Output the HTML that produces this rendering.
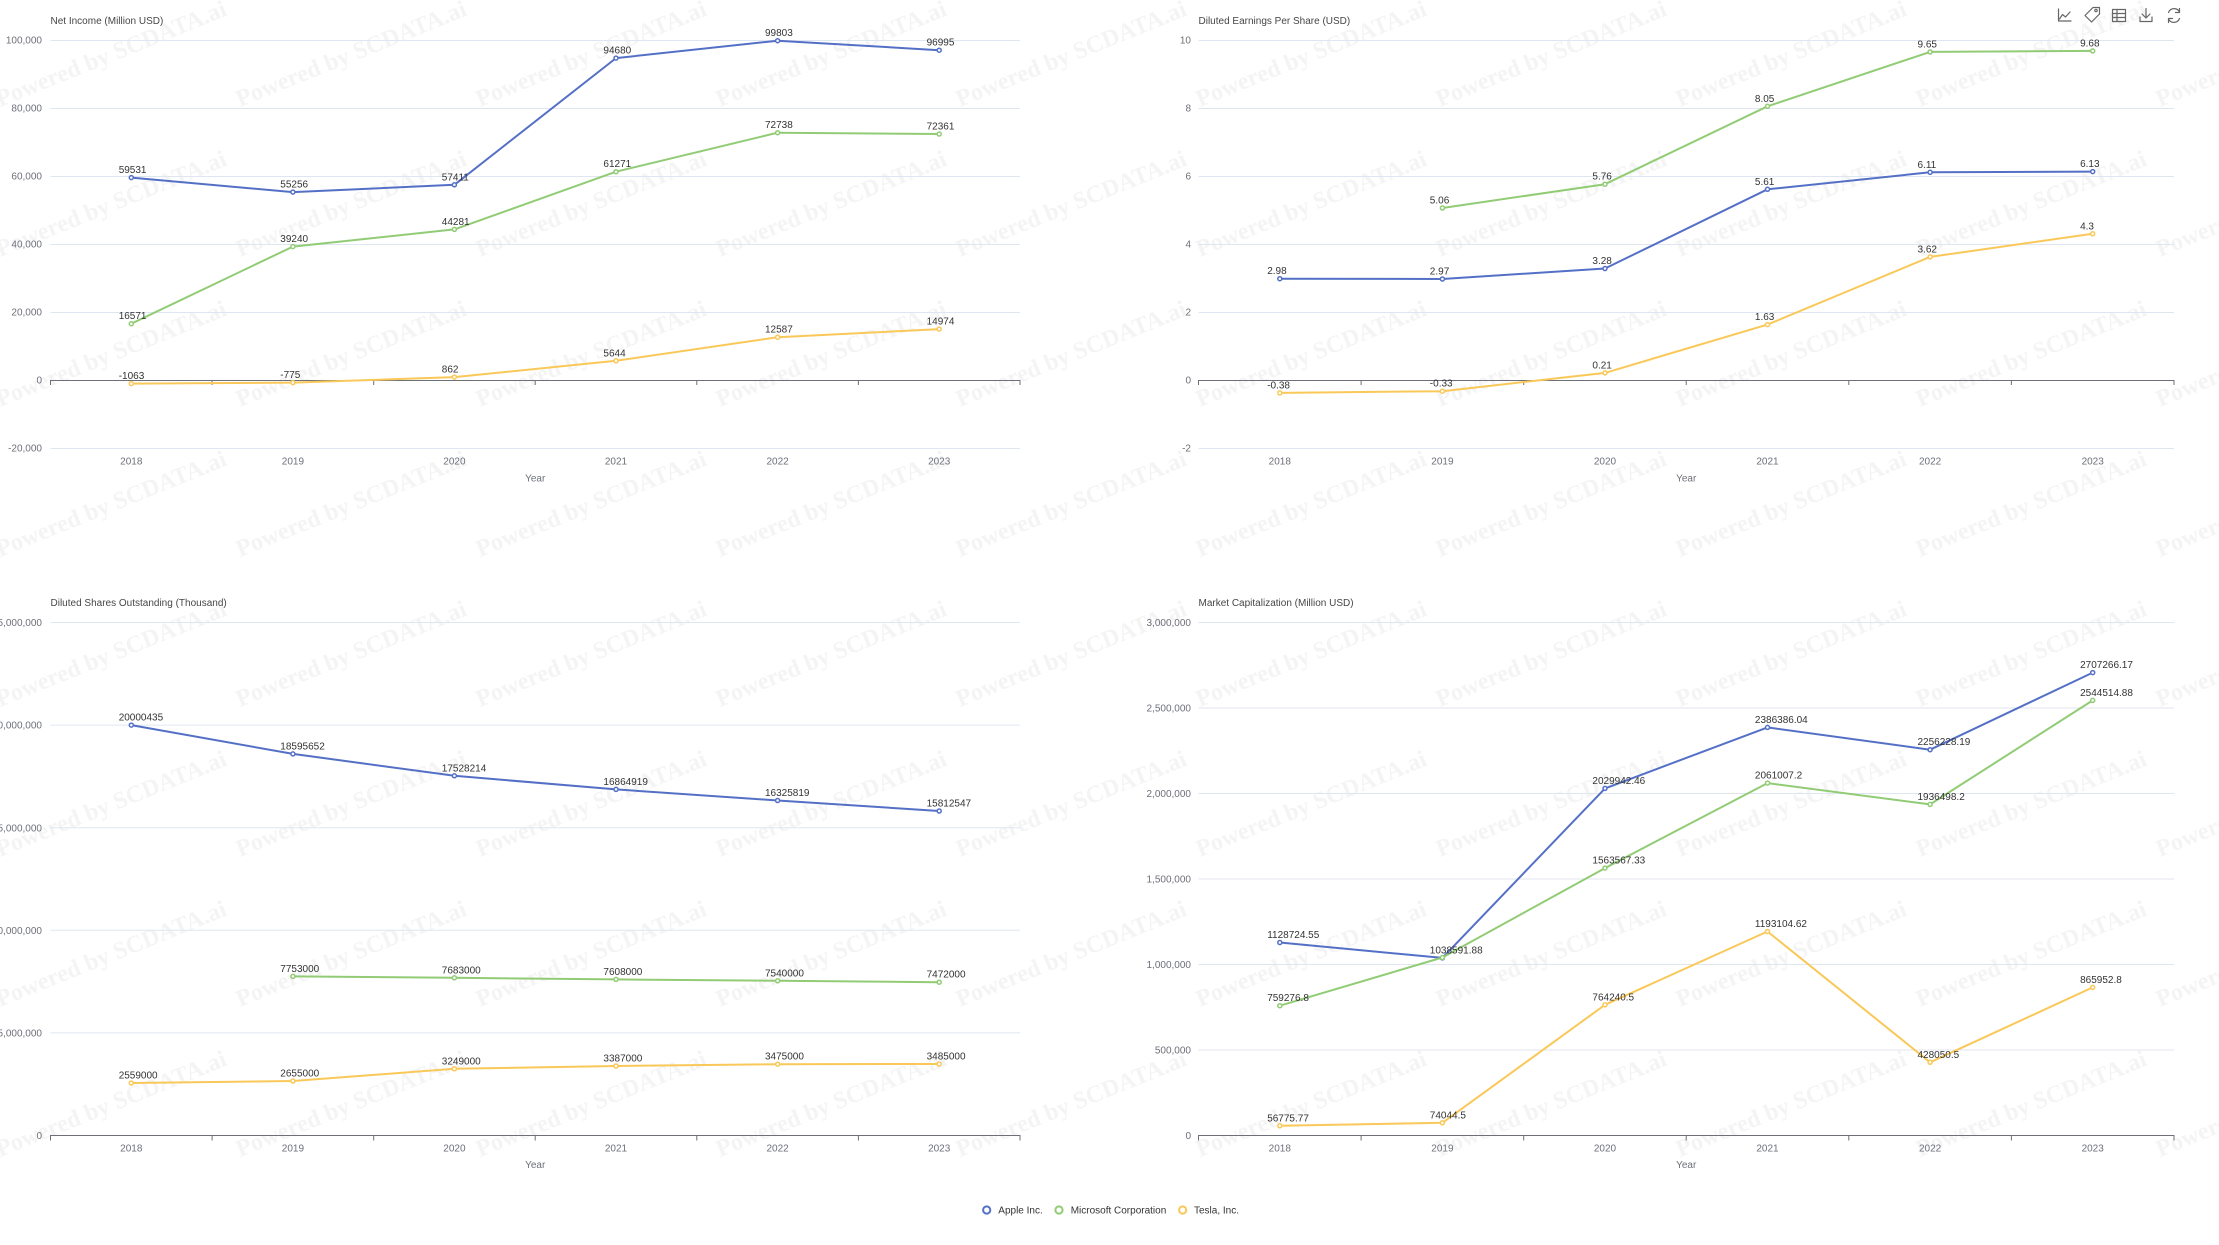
<!DOCTYPE html>
<html><head><meta charset="utf-8"><style>
html,body{margin:0;padding:0;background:#fff;width:2219px;height:1245px;overflow:hidden;}
svg{display:block;overflow:hidden;}
</style></head><body>
<svg width="2219" height="1245" viewBox="0 0 2219 1245" xmlns="http://www.w3.org/2000/svg">
<rect width="2219" height="1245" fill="#fff"/>
<!-- watermark -->
<g font-family="Liberation Serif, serif" font-weight="bold" font-size="24" fill="#f4f4f4">
<text transform="translate(0,107) rotate(-22)">Powered by SCDATA.ai</text><text transform="translate(240,107) rotate(-22)">Powered by SCDATA.ai</text><text transform="translate(480,107) rotate(-22)">Powered by SCDATA.ai</text><text transform="translate(720,107) rotate(-22)">Powered by SCDATA.ai</text><text transform="translate(960,107) rotate(-22)">Powered by SCDATA.ai</text><text transform="translate(1200,107) rotate(-22)">Powered by SCDATA.ai</text><text transform="translate(1440,107) rotate(-22)">Powered by SCDATA.ai</text><text transform="translate(1680,107) rotate(-22)">Powered by SCDATA.ai</text><text transform="translate(1920,107) rotate(-22)">Powered by SCDATA.ai</text><text transform="translate(2160,107) rotate(-22)">Powered by SCDATA.ai</text>
<text transform="translate(0,257) rotate(-22)">Powered by SCDATA.ai</text><text transform="translate(240,257) rotate(-22)">Powered by SCDATA.ai</text><text transform="translate(480,257) rotate(-22)">Powered by SCDATA.ai</text><text transform="translate(720,257) rotate(-22)">Powered by SCDATA.ai</text><text transform="translate(960,257) rotate(-22)">Powered by SCDATA.ai</text><text transform="translate(1200,257) rotate(-22)">Powered by SCDATA.ai</text><text transform="translate(1440,257) rotate(-22)">Powered by SCDATA.ai</text><text transform="translate(1680,257) rotate(-22)">Powered by SCDATA.ai</text><text transform="translate(1920,257) rotate(-22)">Powered by SCDATA.ai</text><text transform="translate(2160,257) rotate(-22)">Powered by SCDATA.ai</text>
<text transform="translate(0,407) rotate(-22)">Powered by SCDATA.ai</text><text transform="translate(240,407) rotate(-22)">Powered by SCDATA.ai</text><text transform="translate(480,407) rotate(-22)">Powered by SCDATA.ai</text><text transform="translate(720,407) rotate(-22)">Powered by SCDATA.ai</text><text transform="translate(960,407) rotate(-22)">Powered by SCDATA.ai</text><text transform="translate(1200,407) rotate(-22)">Powered by SCDATA.ai</text><text transform="translate(1440,407) rotate(-22)">Powered by SCDATA.ai</text><text transform="translate(1680,407) rotate(-22)">Powered by SCDATA.ai</text><text transform="translate(1920,407) rotate(-22)">Powered by SCDATA.ai</text><text transform="translate(2160,407) rotate(-22)">Powered by SCDATA.ai</text>
<text transform="translate(0,557) rotate(-22)">Powered by SCDATA.ai</text><text transform="translate(240,557) rotate(-22)">Powered by SCDATA.ai</text><text transform="translate(480,557) rotate(-22)">Powered by SCDATA.ai</text><text transform="translate(720,557) rotate(-22)">Powered by SCDATA.ai</text><text transform="translate(960,557) rotate(-22)">Powered by SCDATA.ai</text><text transform="translate(1200,557) rotate(-22)">Powered by SCDATA.ai</text><text transform="translate(1440,557) rotate(-22)">Powered by SCDATA.ai</text><text transform="translate(1680,557) rotate(-22)">Powered by SCDATA.ai</text><text transform="translate(1920,557) rotate(-22)">Powered by SCDATA.ai</text><text transform="translate(2160,557) rotate(-22)">Powered by SCDATA.ai</text>
<text transform="translate(0,707) rotate(-22)">Powered by SCDATA.ai</text><text transform="translate(240,707) rotate(-22)">Powered by SCDATA.ai</text><text transform="translate(480,707) rotate(-22)">Powered by SCDATA.ai</text><text transform="translate(720,707) rotate(-22)">Powered by SCDATA.ai</text><text transform="translate(960,707) rotate(-22)">Powered by SCDATA.ai</text><text transform="translate(1200,707) rotate(-22)">Powered by SCDATA.ai</text><text transform="translate(1440,707) rotate(-22)">Powered by SCDATA.ai</text><text transform="translate(1680,707) rotate(-22)">Powered by SCDATA.ai</text><text transform="translate(1920,707) rotate(-22)">Powered by SCDATA.ai</text><text transform="translate(2160,707) rotate(-22)">Powered by SCDATA.ai</text>
<text transform="translate(0,857) rotate(-22)">Powered by SCDATA.ai</text><text transform="translate(240,857) rotate(-22)">Powered by SCDATA.ai</text><text transform="translate(480,857) rotate(-22)">Powered by SCDATA.ai</text><text transform="translate(720,857) rotate(-22)">Powered by SCDATA.ai</text><text transform="translate(960,857) rotate(-22)">Powered by SCDATA.ai</text><text transform="translate(1200,857) rotate(-22)">Powered by SCDATA.ai</text><text transform="translate(1440,857) rotate(-22)">Powered by SCDATA.ai</text><text transform="translate(1680,857) rotate(-22)">Powered by SCDATA.ai</text><text transform="translate(1920,857) rotate(-22)">Powered by SCDATA.ai</text><text transform="translate(2160,857) rotate(-22)">Powered by SCDATA.ai</text>
<text transform="translate(0,1007) rotate(-22)">Powered by SCDATA.ai</text><text transform="translate(240,1007) rotate(-22)">Powered by SCDATA.ai</text><text transform="translate(480,1007) rotate(-22)">Powered by SCDATA.ai</text><text transform="translate(720,1007) rotate(-22)">Powered by SCDATA.ai</text><text transform="translate(960,1007) rotate(-22)">Powered by SCDATA.ai</text><text transform="translate(1200,1007) rotate(-22)">Powered by SCDATA.ai</text><text transform="translate(1440,1007) rotate(-22)">Powered by SCDATA.ai</text><text transform="translate(1680,1007) rotate(-22)">Powered by SCDATA.ai</text><text transform="translate(1920,1007) rotate(-22)">Powered by SCDATA.ai</text><text transform="translate(2160,1007) rotate(-22)">Powered by SCDATA.ai</text>
<text transform="translate(0,1157) rotate(-22)">Powered by SCDATA.ai</text><text transform="translate(240,1157) rotate(-22)">Powered by SCDATA.ai</text><text transform="translate(480,1157) rotate(-22)">Powered by SCDATA.ai</text><text transform="translate(720,1157) rotate(-22)">Powered by SCDATA.ai</text><text transform="translate(960,1157) rotate(-22)">Powered by SCDATA.ai</text><text transform="translate(1200,1157) rotate(-22)">Powered by SCDATA.ai</text><text transform="translate(1440,1157) rotate(-22)">Powered by SCDATA.ai</text><text transform="translate(1680,1157) rotate(-22)">Powered by SCDATA.ai</text><text transform="translate(1920,1157) rotate(-22)">Powered by SCDATA.ai</text><text transform="translate(2160,1157) rotate(-22)">Powered by SCDATA.ai</text>
</g>

<!-- grid lines -->
<g stroke="#E0E6F1" stroke-width="1">
<path d="M50.5 40.5H1020M50.5 108.5H1020M50.5 176.5H1020M50.5 244.5H1020M50.5 312.5H1020M50.5 448.5H1020"/>
<path d="M1198.5 40.5H2174M1198.5 108.5H2174M1198.5 176.5H2174M1198.5 244.5H2174M1198.5 312.5H2174M1198.5 448.5H2174"/>
<path d="M50.5 622.5H1020M50.5 725.1H1020M50.5 827.7H1020M50.5 930.3H1020M50.5 1032.9H1020"/>
<path d="M1198.5 622.5H2174M1198.5 708H2174M1198.5 793.5H2174M1198.5 879H2174M1198.5 964.5H2174M1198.5 1050H2174"/>
</g>
<!-- axes -->
<g stroke="#6E7079" stroke-width="1" fill="none">
<path d="M50.5 380.5H1020M50.5 380V385M212.1 380V385M373.7 380V385M535.2 380V385M696.8 380V385M858.4 380V385M1020 380V385"/>
<path d="M1198.5 380.5H2174M1198.5 380V385M1361.1 380V385M1523.7 380V385M1686.2 380V385M1848.8 380V385M2011.4 380V385M2174 380V385"/>
<path d="M50.5 1135.5H1020M50.5 1135V1140.5M212.1 1135V1140.5M373.7 1135V1140.5M535.2 1135V1140.5M696.8 1135V1140.5M858.4 1135V1140.5M1020 1135V1140.5"/>
<path d="M1198.5 1135.5H2174M1198.5 1135V1140.5M1361.1 1135V1140.5M1523.7 1135V1140.5M1686.2 1135V1140.5M1848.8 1135V1140.5M2011.4 1135V1140.5M2174 1135V1140.5"/>
</g>

<!-- titles -->
<g font-family="Liberation Sans, sans-serif" font-size="10" fill="#464646">
<text x="50.5" y="24">Net Income (Million USD)</text>
<text x="1198.5" y="24">Diluted Earnings Per Share (USD)</text>
<text x="50.5" y="606">Diluted Shares Outstanding (Thousand)</text>
<text x="1198.5" y="606">Market Capitalization (Million USD)</text>
</g>

<!-- y axis labels -->
<g font-family="Liberation Sans, sans-serif" font-size="10" fill="#6E7079" text-anchor="end">
<text x="42" y="43.6">100,000</text><text x="42" y="111.6">80,000</text><text x="42" y="179.6">60,000</text><text x="42" y="247.6">40,000</text><text x="42" y="315.6">20,000</text><text x="42" y="383.6">0</text><text x="42" y="451.6">-20,000</text>
<text x="1191" y="43.6">10</text><text x="1191" y="111.6">8</text><text x="1191" y="179.6">6</text><text x="1191" y="247.6">4</text><text x="1191" y="315.6">2</text><text x="1191" y="383.6">0</text><text x="1191" y="451.6">-2</text>
<text x="42" y="626.1">25,000,000</text><text x="42" y="728.7">20,000,000</text><text x="42" y="831.3">15,000,000</text><text x="42" y="933.9">10,000,000</text><text x="42" y="1036.5">5,000,000</text><text x="42" y="1139.1">0</text>
<text x="1191" y="626.1">3,000,000</text><text x="1191" y="711.6">2,500,000</text><text x="1191" y="797.1">2,000,000</text><text x="1191" y="882.6">1,500,000</text><text x="1191" y="968.1">1,000,000</text><text x="1191" y="1053.6">500,000</text><text x="1191" y="1139.1">0</text>
</g>

<!-- x axis labels -->
<g font-family="Liberation Sans, sans-serif" font-size="10" fill="#6E7079" text-anchor="middle">
<text x="131.3" y="464.6">2018</text><text x="292.9" y="464.6">2019</text><text x="454.4" y="464.6">2020</text><text x="616" y="464.6">2021</text><text x="777.6" y="464.6">2022</text><text x="939.2" y="464.6">2023</text>
<text x="535.2" y="481.3">Year</text>
<text x="1279.8" y="464.6">2018</text><text x="1442.4" y="464.6">2019</text><text x="1605" y="464.6">2020</text><text x="1767.5" y="464.6">2021</text><text x="1930.1" y="464.6">2022</text><text x="2092.7" y="464.6">2023</text>
<text x="1686.2" y="481.3">Year</text>
<text x="131.3" y="1151.6">2018</text><text x="292.9" y="1151.6">2019</text><text x="454.4" y="1151.6">2020</text><text x="616" y="1151.6">2021</text><text x="777.6" y="1151.6">2022</text><text x="939.2" y="1151.6">2023</text>
<text x="535.2" y="1168.2">Year</text>
<text x="1279.8" y="1151.6">2018</text><text x="1442.4" y="1151.6">2019</text><text x="1605" y="1151.6">2020</text><text x="1767.5" y="1151.6">2021</text><text x="1930.1" y="1151.6">2022</text><text x="2092.7" y="1151.6">2023</text>
<text x="1686.2" y="1168.2">Year</text>
</g>

<!-- series lines -->
<g fill="none" stroke-width="2" stroke-linejoin="round">
<polyline stroke="#5470c6" points="131.3,177.6 292.9,192.1 454.4,184.8 616,58.1 777.6,40.7 939.2,50.2"/>
<polyline stroke="#91cc75" points="131.3,323.7 292.9,246.6 454.4,229.4 616,171.7 777.6,132.7 939.2,134"/>
<polyline stroke="#fac858" points="131.3,383.6 292.9,382.6 454.4,377.1 616,360.8 777.6,337.2 939.2,329.1"/>

<polyline stroke="#5470c6" points="1279.8,278.7 1442.4,279 1605,268.5 1767.5,189.3 1930.1,172.3 2092.7,171.6"/>
<polyline stroke="#91cc75" points="1442.4,208 1605,184.2 1767.5,106.3 1930.1,51.9 2092.7,50.9"/>
<polyline stroke="#fac858" points="1279.8,392.9 1442.4,391.2 1605,372.9 1767.5,324.6 1930.1,256.9 2092.7,233.8"/>

<polyline stroke="#5470c6" points="131.3,725.1 292.9,753.9 454.4,775.8 616,789.4 777.6,800.5 939.2,811"/>
<polyline stroke="#91cc75" points="292.9,976.4 454.4,977.8 616,979.4 777.6,980.8 939.2,982.2"/>
<polyline stroke="#fac858" points="131.3,1083 292.9,1081 454.4,1068.8 616,1066 777.6,1064.2 939.2,1064"/>

<polyline stroke="#5470c6" points="1279.8,942.5 1442.4,957.9 1605,788.4 1767.5,727.4 1930.1,749.7 2092.7,672.6"/>
<polyline stroke="#91cc75" points="1279.8,1005.7 1442.4,957.5 1605,868.1 1767.5,783.1 1930.1,804.4 2092.7,700.4"/>
<polyline stroke="#fac858" points="1279.8,1125.8 1442.4,1122.8 1605,1004.8 1767.5,931.5 1930.1,1062.3 2092.7,987.4"/>
</g>

<!-- symbols -->
<g fill="#fff" stroke-width="1.5">
<g stroke="#5470c6">
<circle cx="131.3" cy="177.6" r="2"/><circle cx="292.9" cy="192.1" r="2"/><circle cx="454.4" cy="184.8" r="2"/><circle cx="616" cy="58.1" r="2"/><circle cx="777.6" cy="40.7" r="2"/><circle cx="939.2" cy="50.2" r="2"/>
<circle cx="1279.8" cy="278.7" r="2"/><circle cx="1442.4" cy="279" r="2"/><circle cx="1605" cy="268.5" r="2"/><circle cx="1767.5" cy="189.3" r="2"/><circle cx="1930.1" cy="172.3" r="2"/><circle cx="2092.7" cy="171.6" r="2"/>
<circle cx="131.3" cy="725.1" r="2"/><circle cx="292.9" cy="753.9" r="2"/><circle cx="454.4" cy="775.8" r="2"/><circle cx="616" cy="789.4" r="2"/><circle cx="777.6" cy="800.5" r="2"/><circle cx="939.2" cy="811" r="2"/>
<circle cx="1279.8" cy="942.5" r="2"/><circle cx="1442.4" cy="957.9" r="2"/><circle cx="1605" cy="788.4" r="2"/><circle cx="1767.5" cy="727.4" r="2"/><circle cx="1930.1" cy="749.7" r="2"/><circle cx="2092.7" cy="672.6" r="2"/>
</g>
<g stroke="#91cc75">
<circle cx="131.3" cy="323.7" r="2"/><circle cx="292.9" cy="246.6" r="2"/><circle cx="454.4" cy="229.4" r="2"/><circle cx="616" cy="171.7" r="2"/><circle cx="777.6" cy="132.7" r="2"/><circle cx="939.2" cy="134" r="2"/>
<circle cx="1442.4" cy="208" r="2"/><circle cx="1605" cy="184.2" r="2"/><circle cx="1767.5" cy="106.3" r="2"/><circle cx="1930.1" cy="51.9" r="2"/><circle cx="2092.7" cy="50.9" r="2"/>
<circle cx="292.9" cy="976.4" r="2"/><circle cx="454.4" cy="977.8" r="2"/><circle cx="616" cy="979.4" r="2"/><circle cx="777.6" cy="980.8" r="2"/><circle cx="939.2" cy="982.2" r="2"/>
<circle cx="1279.8" cy="1005.7" r="2"/><circle cx="1442.4" cy="957.5" r="2"/><circle cx="1605" cy="868.1" r="2"/><circle cx="1767.5" cy="783.1" r="2"/><circle cx="1930.1" cy="804.4" r="2"/><circle cx="2092.7" cy="700.4" r="2"/>
</g>
<g stroke="#fac858">
<circle cx="131.3" cy="383.6" r="2"/><circle cx="292.9" cy="382.6" r="2"/><circle cx="454.4" cy="377.1" r="2"/><circle cx="616" cy="360.8" r="2"/><circle cx="777.6" cy="337.2" r="2"/><circle cx="939.2" cy="329.1" r="2"/>
<circle cx="1279.8" cy="392.9" r="2"/><circle cx="1442.4" cy="391.2" r="2"/><circle cx="1605" cy="372.9" r="2"/><circle cx="1767.5" cy="324.6" r="2"/><circle cx="1930.1" cy="256.9" r="2"/><circle cx="2092.7" cy="233.8" r="2"/>
<circle cx="131.3" cy="1083" r="2"/><circle cx="292.9" cy="1081" r="2"/><circle cx="454.4" cy="1068.8" r="2"/><circle cx="616" cy="1066" r="2"/><circle cx="777.6" cy="1064.2" r="2"/><circle cx="939.2" cy="1064" r="2"/>
<circle cx="1279.8" cy="1125.8" r="2"/><circle cx="1442.4" cy="1122.8" r="2"/><circle cx="1605" cy="1004.8" r="2"/><circle cx="1767.5" cy="931.5" r="2"/><circle cx="1930.1" cy="1062.3" r="2"/><circle cx="2092.7" cy="987.4" r="2"/>
</g>
</g>

<!-- data labels -->
<g font-family="Liberation Sans, sans-serif" font-size="10" fill="#333">
<text x="118.7" y="173.1">59531</text><text x="280.3" y="187.6">55256</text><text x="441.8" y="180.3">57411</text><text x="603.4" y="53.6">94680</text><text x="765" y="36.2">99803</text><text x="926.6" y="45.7">96995</text>
<text x="118.7" y="319.2">16571</text><text x="280.3" y="242.1">39240</text><text x="441.8" y="224.9">44281</text><text x="603.4" y="167.2">61271</text><text x="765" y="128.2">72738</text><text x="926.6" y="129.5">72361</text>
<text x="118.7" y="379.1">-1063</text><text x="280.3" y="378.1">-775</text><text x="441.8" y="372.6">862</text><text x="603.4" y="356.3">5644</text><text x="765" y="332.7">12587</text><text x="926.6" y="324.6">14974</text>

<text x="1267.2" y="274.2">2.98</text><text x="1429.8" y="274.5">2.97</text><text x="1592.4" y="264">3.28</text><text x="1754.9" y="184.8">5.61</text><text x="1917.5" y="167.8">6.11</text><text x="2080.1" y="167.1">6.13</text>
<text x="1429.8" y="203.5">5.06</text><text x="1592.4" y="179.7">5.76</text><text x="1754.9" y="101.8">8.05</text><text x="1917.5" y="47.4">9.65</text><text x="2080.1" y="46.4">9.68</text>
<text x="1267.2" y="388.4">-0.38</text><text x="1429.8" y="386.7">-0.33</text><text x="1592.4" y="368.4">0.21</text><text x="1754.9" y="320.1">1.63</text><text x="1917.5" y="252.4">3.62</text><text x="2080.1" y="229.3">4.3</text>

<text x="118.7" y="720.6">20000435</text><text x="280.3" y="749.4">18595652</text><text x="441.8" y="771.3">17528214</text><text x="603.4" y="784.9">16864919</text><text x="765" y="796">16325819</text><text x="926.6" y="806.5">15812547</text>
<text x="280.3" y="971.9">7753000</text><text x="441.8" y="973.3">7683000</text><text x="603.4" y="974.9">7608000</text><text x="765" y="976.3">7540000</text><text x="926.6" y="977.7">7472000</text>
<text x="118.7" y="1078.5">2559000</text><text x="280.3" y="1076.5">2655000</text><text x="441.8" y="1064.3">3249000</text><text x="603.4" y="1061.5">3387000</text><text x="765" y="1059.7">3475000</text><text x="926.6" y="1059.5">3485000</text>

<text x="1267.2" y="938">1128724.55</text><text x="1429.8" y="953.4">1038591.88</text><text x="1592.4" y="783.9">2029942.46</text><text x="1754.9" y="722.9">2386386.04</text><text x="1917.5" y="745.2">2256228.19</text><text x="2080.1" y="668.1">2707266.17</text>
<text x="1267.2" y="1001.2">759276.8</text><text x="1592.4" y="863.6">1563567.33</text><text x="1754.9" y="778.6">2061007.2</text><text x="1917.5" y="799.9">1936498.2</text><text x="2080.1" y="695.9">2544514.88</text>
<text x="1267.2" y="1121.3">56775.77</text><text x="1429.8" y="1118.3">74044.5</text><text x="1592.4" y="1000.3">764240.5</text><text x="1754.9" y="927">1193104.62</text><text x="1917.5" y="1057.8">428050.5</text><text x="2080.1" y="982.9">865952.8</text>
</g>

<!-- legend -->
<g fill="#fff" stroke-width="2">
<circle cx="986.7" cy="1210" r="3.6" stroke="#5470c6"/>
<circle cx="1059" cy="1210" r="3.6" stroke="#91cc75"/>
<circle cx="1182.7" cy="1210" r="3.6" stroke="#fac858"/>
</g>
<g font-family="Liberation Sans, sans-serif" font-size="10" fill="#333">
<text x="998.3" y="1213.6">Apple Inc.</text>
<text x="1070.7" y="1213.6">Microsoft Corporation</text>
<text x="1194" y="1213.6">Tesla, Inc.</text>
</g>

<!-- toolbox -->
<g fill="none" stroke="#666" stroke-width="1.2" stroke-linejoin="round" stroke-linecap="round">
<path d="M2058.5 9V21H2071"/>
<path d="M2059.5 19L2062.5 14.5L2065.5 17L2070 12"/>
<path d="M2093 9.5L2099.5 9.5L2099.5 16L2091.5 24L2085 17.5Z" transform="translate(0,-2)"/>
<circle cx="2096" cy="10.5" r="1.2"/>
<rect x="2112.5" y="9.5" width="13" height="12"/>
<path d="M2112.5 13.5H2125.5M2112.5 17.5H2125.5M2117 9.5V21.5"/>
<path d="M2146 8.5V18M2142 14L2146 18L2150 14M2140 17V21.5H2152V17"/>
<path d="M2179.5 12A6 6 0 0 0 2168.5 12.5M2168.5 19A6 6 0 0 0 2179.5 18.5"/>
<path d="M2179.5 8.5V12.5H2175.5M2168.5 22.5V18.5H2172.5"/>
</g>
</svg>
</body></html>
